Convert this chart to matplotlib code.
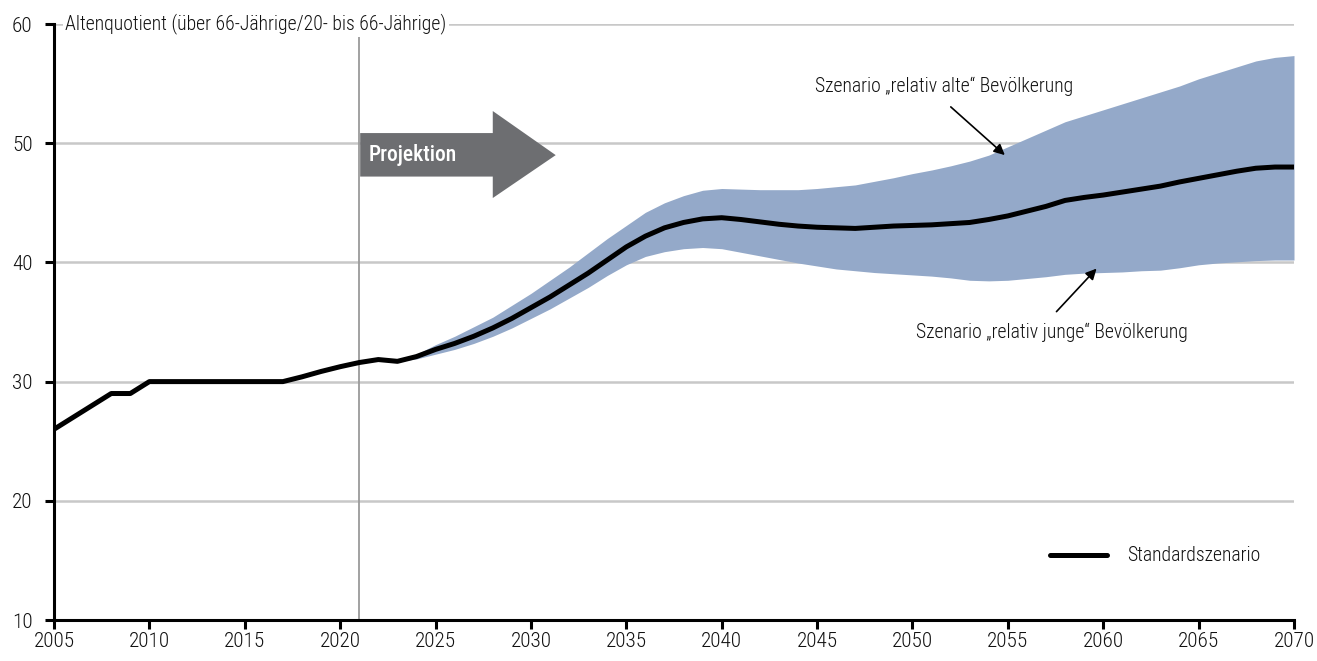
import matplotlib
matplotlib.use("Agg")
import matplotlib.pyplot as plt
from matplotlib import font_manager as fm
from matplotlib.patches import Polygon
from matplotlib.lines import Line2D

# ---------------- data ----------------
hist_years = list(range(2005, 2024))
hist_values = [26.0, 27.0, 28.0, 29.0, 29.0, 30.0, 30.0, 30.0, 30.0, 30.0,
               30.0, 30.0, 30.0, 30.4, 30.85, 31.25, 31.6, 31.85, 31.7]

proj_years = list(range(2023, 2071))
std_values = [31.7, 32.1, 32.7, 33.2, 33.8, 34.5, 35.3, 36.2, 37.1, 38.1,
              39.1, 40.2, 41.3, 42.2, 42.9, 43.35, 43.65, 43.75, 43.6, 43.4,
              43.2, 43.05, 42.95, 42.9, 42.85, 42.95, 43.05, 43.1, 43.15, 43.25,
              43.35, 43.6, 43.9, 44.3, 44.7, 45.2, 45.45, 45.65, 45.9, 46.15,
              46.4, 46.75, 47.05, 47.35, 47.65, 47.9, 48.0, 48.0]
old_values = [31.7, 32.3, 33.1, 33.8, 34.6, 35.4, 36.4, 37.4, 38.5, 39.6,
              40.8, 42.0, 43.1, 44.2, 45.0, 45.6, 46.05, 46.2, 46.15, 46.1,
              46.1, 46.1, 46.2, 46.35, 46.5, 46.8, 47.1, 47.45, 47.75, 48.1,
              48.5, 49.0, 49.7, 50.4, 51.1, 51.8, 52.3, 52.8, 53.3, 53.8,
              54.3, 54.8, 55.4, 55.9, 56.4, 56.9, 57.2, 57.35]
young_values = [31.7, 31.9, 32.3, 32.7, 33.2, 33.8, 34.5, 35.3, 36.1, 37.0,
                37.9, 38.9, 39.8, 40.5, 40.9, 41.15, 41.25, 41.15, 40.85, 40.55,
                40.25, 39.95, 39.7, 39.45, 39.3, 39.15, 39.05, 38.95, 38.85, 38.7,
                38.5, 38.45, 38.5, 38.65, 38.8, 39.0, 39.1, 39.15, 39.2, 39.3,
                39.35, 39.55, 39.8, 39.95, 40.05, 40.15, 40.2, 40.2]

x_ticks = list(range(2005, 2071, 5))
y_ticks = [10, 20, 30, 40, 50, 60]
projection_start = 2021

title_text = "Altenquotient (über 66-Jährige/20- bis 66-Jährige)"
label_old = "Szenario „relativ alte“ Bevölkerung"
label_young = "Szenario „relativ junge“ Bevölkerung"
label_std = "Standardszenario"
label_proj = "Projektion"

# ---------------- fonts ----------------
names = {f.name for f in fm.fontManager.ttflist}
for cand in ["Liberation Sans Narrow", "Roboto Condensed", "Open Sans Condensed"]:
    if cand in names:
        plt.rcParams["font.family"] = [cand, "DejaVu Sans"]
        break
else:
    plt.rcParams["font.family"] = ["DejaVu Sans"]
    plt.rcParams["font.stretch"] = "condensed"
plt.rcParams["font.weight"] = 300

FS = 14.2
TICK_FS = 15.3
TXT = "#111111"
BAND = "#94A9C9"
GRID = "#C8C8C8"
ARROW_GREY = "#6D6E71"

fig = plt.figure(figsize=(13.17, 6.61), dpi=100)
ax = fig.add_axes([54 / 1317, 41 / 661, 1240 / 1317, 596 / 661])

ax.set_xlim(2005, 2070)
ax.set_ylim(10, 60)

# grid lines
for yv in y_ticks[1:]:
    ax.axhline(yv, color=GRID, lw=1.8, zorder=0)

# band
ax.fill_between(proj_years, young_values, old_values, color=BAND, lw=0, zorder=1)

# projection start line
ax.plot([projection_start, projection_start], [10, 59.1], color="#9A9A9A", lw=1.3, zorder=2)

# main line
ax.plot(hist_years + proj_years[1:], hist_values + std_values[1:], color="black",
        lw=3.6, solid_joinstyle="round", solid_capstyle="butt", zorder=3)

# spines and ticks
for s in ["top", "right"]:
    ax.spines[s].set_visible(False)
ax.spines["left"].set_linewidth(2.2)
ax.spines["bottom"].set_linewidth(2.2)
ax.set_xticks(x_ticks)
ax.set_yticks(y_ticks)
ax.tick_params(axis="both", direction="out", length=6.5, width=2.2, labelsize=TICK_FS,
               colors="black", labelcolor=TXT)
ax.tick_params(axis="x", pad=2)
ax.tick_params(axis="y", pad=9)

# title inside axes at top
ax.text(2005.6, 60, title_text, fontsize=FS, color=TXT, va="center", ha="left",
        bbox=dict(facecolor="white", edgecolor="none", pad=2), zorder=4)

# Projektion arrow
arrow_pts = [(2021.05, 47.2), (2028.0, 47.2), (2028.0, 45.4), (2031.3, 49.0),
             (2028.0, 52.7), (2028.0, 50.85), (2021.05, 50.85)]
ax.add_patch(Polygon(arrow_pts, closed=True, facecolor=ARROW_GREY, edgecolor="none", zorder=4))
ax.text(2021.5, 49.0, label_proj, fontsize=15.5, color="white", fontweight="medium",
        va="center", ha="left", zorder=5)

# annotations
ax.annotate("", xy=(2054.95, 48.85), xytext=(2051.9, 53.2),
            arrowprops=dict(arrowstyle="-|>", color="black", lw=1.2, mutation_scale=16), zorder=5)
ax.text(2044.9, 54.75, label_old, fontsize=FS, color=TXT, va="center", ha="left")
ax.annotate("", xy=(2059.75, 39.65), xytext=(2057.45, 35.7),
            arrowprops=dict(arrowstyle="-|>", color="black", lw=1.2, mutation_scale=16), zorder=5)
ax.text(2050.2, 34.1, label_young, fontsize=FS, color=TXT, va="center", ha="left")

# legend
handle = Line2D([], [], color="black", lw=3.6, solid_capstyle="round")
leg = ax.legend([handle], [label_std], loc="center left", bbox_to_anchor=(0.803, 0.1074),
                frameon=False, fontsize=FS, handlelength=2.9, handletextpad=1.0,
                borderpad=0, borderaxespad=0)
for t in leg.get_texts():
    t.set_color(TXT)

fig.savefig("out.png", dpi=100)
